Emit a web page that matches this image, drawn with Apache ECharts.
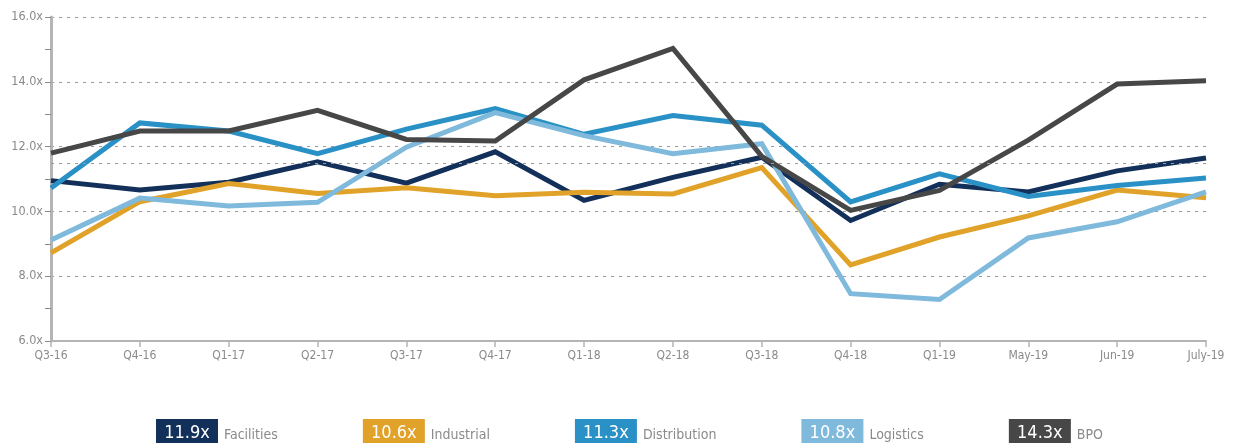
<!DOCTYPE html>
<html>
<head>
<meta charset="utf-8">
<script src="https://cdn.jsdelivr.net/npm/echarts@6/dist/echarts.min.js"></script>
<style>
  html, body { margin: 0; padding: 0; background: #fff; }
  #chart { width: 1236px; height: 443px; }
</style>
</head>
<body>
<div id="chart"></div>
<script>
// categories along the x axis
const periods = ['Q3-16', 'Q4-16', 'Q1-17', 'Q2-17', 'Q3-17', 'Q4-17', 'Q1-18', 'Q2-18',
  'Q3-18', 'Q4-18', 'Q1-19', 'May-19', 'Jun-19', 'July-19']

// multiples
const facilities = [10.95, 10.66, 10.9, 11.53, 10.87, 11.84, 10.34, 11.05, 11.67, 9.72, 10.84, 10.6, 11.25, 11.65]
const industrial = [8.72, 10.3, 10.86, 10.55, 10.73, 10.48, 10.59, 10.54, 11.35, 8.35, 9.21, 9.86, 10.66, 10.42]
const distribution = [10.72, 12.73, 12.48, 11.78, 12.54, 13.17, 12.38, 12.96, 12.66, 10.29, 11.16, 10.46, 10.8, 11.03]
const logistics = [9.12, 10.41, 10.17, 10.28, 11.98, 13.05, 12.34, 11.78, 12.09, 7.46, 7.28, 9.18, 9.68, 10.6]
const bpo = [11.8, 12.48, 12.48, 13.12, 12.22, 12.17, 14.06, 15.03, 11.7, 10.03, 10.65, 12.2, 13.93, 14.03]

// legend headline values
const names = ['Facilities', 'Industrial', 'Distribution', 'Logistics', 'BPO']
const current = ['11.9x', '10.6x', '11.3x', '10.8x', '14.3x']
const colors = ['#12305a', '#e0a228', '#2a91c6', '#7fb9dc', '#474747']

const yTicks = [6, 8, 10, 12, 14, 16]
const reference = 11.5

const font = '"DejaVu Sans Condensed", Roboto, sans-serif'

const chart = echarts.init(document.getElementById('chart'))

const allValues = [facilities, industrial, distribution, logistics, bpo]

const rich = {}
names.forEach((n, i) => {
  rich['b' + i] = {
    backgroundColor: colors[i],
    color: '#fff',
    fontFamily: font,
    fontSize: 18,
    width: 48,
    height: 28,
    lineHeight: 28,
    align: 'center',
    padding: [0, 7]
  }
})
rich.lab = { color: '#8a8a8a', fontFamily: font, fontSize: 14, padding: [4, 0, 0, 6] }

const series = names.map((n, i) => ({
  name: n,
  type: 'line',
  z: 3,
  data: allValues[i],
  showSymbol: false,
  symbol: 'none',
  lineStyle: { width: 5, color: colors[i], join: 'miter' },
  itemStyle: { color: colors[i] },
  emphasis: { disabled: true },
  animation: false
}))

// dashed reference line under the series
series.unshift({
  name: 'ref',
  type: 'line',
  z: 1,
  data: [],
  silent: true,
  markLine: {
    silent: true,
    symbol: 'none',
    label: { show: false },
    lineStyle: { color: '#999', type: [3, 5], width: 1 },
    data: [{ yAxis: reference }]
  }
})

chart.setOption({
  backgroundColor: '#fff',
  animation: false,
  grid: { left: 51, right: 30, top: 17, bottom: 102 },
  legend: {
    top: 414,
    left: 146,
    itemGap: 80,
    itemWidth: 0,
    itemHeight: 0,
    icon: 'rect',
    selectedMode: false,
    data: names,
    formatter: function (name) {
      const i = names.indexOf(name)
      return '{b' + i + '|' + current[i] + '}{lab|' + name + '}'
    },
    textStyle: { rich: rich, padding: 0 }
  },
  xAxis: {
    type: 'category',
    data: periods,
    boundaryGap: false,
    axisLine: { lineStyle: { color: '#b4b4b4', width: 2 } },
    axisTick: { show: true, length: 6, lineStyle: { color: '#b4b4b4', width: 1.5 } },
    axisLabel: { color: '#8a8a8a', fontFamily: font, fontSize: 12, margin: 9, interval: 0 },
    splitLine: { show: false }
  },
  yAxis: {
    type: 'value',
    min: yTicks[0],
    max: yTicks[yTicks.length - 1],
    interval: 2,
    axisLine: { show: true, lineStyle: { color: '#b4b4b4', width: 3 } },
    axisTick: { show: true, length: 6, lineStyle: { color: '#8a8a8a', width: 1 } },
    minorTick: { show: true, splitNumber: 2, length: 6, lineStyle: { color: '#8a8a8a', width: 1 } },
    axisLabel: {
      color: '#8a8a8a', fontFamily: font, fontSize: 12.5, margin: 8,
      formatter: v => v.toFixed(1) + 'x'
    },
    splitLine: {
      show: true,
      lineStyle: { color: '#999', type: [3, 5], width: 1 }
    }
  },
  series: series
})
</script>
</body>
</html>
